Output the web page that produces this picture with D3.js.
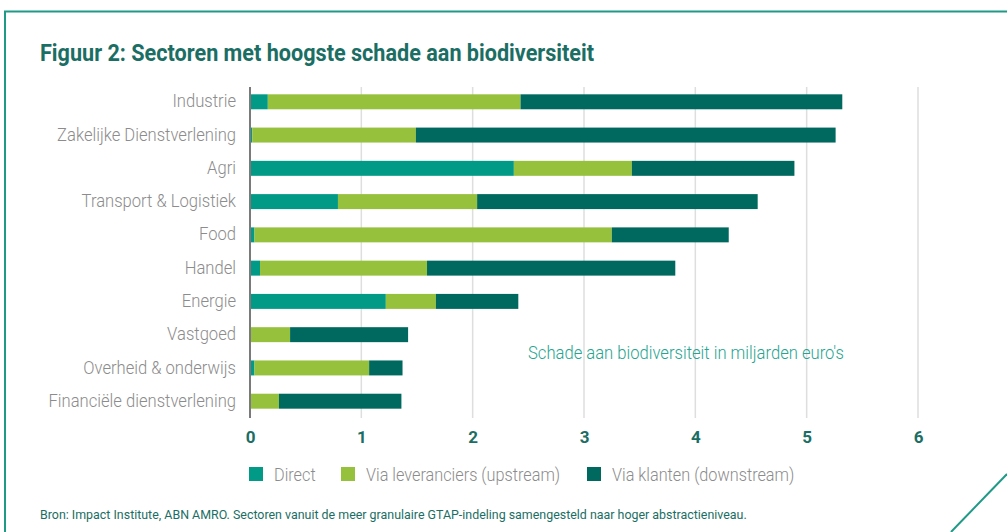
<!DOCTYPE html>
<html>
<head>
<meta charset="utf-8">
<title>Figuur 2</title>
<script src="https://d3js.org/d3.v7.min.js"></script>
<style type="text/css">
	body {
		margin: 0;
		background: #fff;
		overflow: hidden;
	}
	.cond {
		font-family: "Roboto", "Liberation Sans", sans-serif;
	}
	.grid line {
		stroke: #dedede;
		stroke-width: 1.5px;
	}
</style>
</head>
<body>
<div id="chart"></div>
<script type="text/javascript">

var sectors = ["Industrie", "Zakelijke Dienstverlening", "Agri", "Transport & Logistiek", "Food",
	"Handel", "Energie", "Vastgoed", "Overheid & onderwijs", "Financiële dienstverlening"];
var direct     = [0.16, 0.02, 2.37, 0.79, 0.04, 0.09, 1.22, 0.00, 0.04, 0.00];
var upstream   = [2.27, 1.47, 1.06, 1.25, 3.21, 1.50, 0.45, 0.36, 1.03, 0.26];
var downstream = [2.89, 3.77, 1.46, 2.52, 1.05, 2.23, 0.74, 1.06, 0.30, 1.10];
var seriesNames = ["Direct", "Via leveranciers (upstream)", "Via klanten (downstream)"];
var xTicks = [0, 1, 2, 3, 4, 5, 6];

var colors = ["#009a87", "#96c13d", "#00695f"];
var teal = "#1b6e64";
var grey = "#8c8c8c";
var squeeze = 0.95;   // fake a condensed face

var width = 1007, height = 532;

var svg = d3.select("#chart").append("svg")
	.attr("width", width)
	.attr("height", height);

// frame
svg.append("path")
	.attr("d", "M5,532 L5,11.5 L1007,11.5")
	.attr("fill", "none")
	.attr("stroke", "#1f9a87")
	.attr("stroke-width", 2);
svg.append("line")
	.attr("x1", 951).attr("y1", 532)
	.attr("x2", 1007).attr("y2", 474)
	.attr("stroke", "#1f9a87")
	.attr("stroke-width", 2);

svg.append("g")
	.attr("transform", "translate(40,61) scale(0.94,1)")
	.append("text")
	.attr("class", "cond")
	.attr("fill", teal)
	.style("font-size", "23px")
	.style("font-weight", "bold")
	.text("Figuur 2: Sectoren met hoogste schade aan biodiversiteit");

var x = d3.scaleLinear().domain([0, 6]).range([250, 918]);
var y = d3.scaleBand().domain(sectors).range([85, 418]).paddingInner(0.55).paddingOuter(0.28);

// gridlines
svg.append("g").attr("class", "grid")
	.selectAll("line")
	.data(xTicks.slice(1)).enter()
	.append("line")
	.attr("x1", function(d) { return x(d); })
	.attr("x2", function(d) { return x(d); })
	.attr("y1", 87).attr("y2", 418);

var table = sectors.map(function(s, i) {
	return { sector: s, d: direct[i], u: upstream[i], k: downstream[i] };
});
var stack = d3.stack().keys(["d", "u", "k"])(table);

svg.selectAll("g.series")
	.data(stack).enter()
	.append("g")
	.attr("class", "series")
	.attr("fill", function(d, i) { return colors[i]; })
	.selectAll("rect")
	.data(function(d) { return d; }).enter()
	.append("rect")
	.attr("x", function(d) { return x(d[0]); })
	.attr("width", function(d) { return x(d[1]) - x(d[0]); })
	.attr("y", function(d) { return y(d.data.sector); })
	.attr("height", y.bandwidth());

// zero line
svg.append("line")
	.attr("x1", x(0)).attr("x2", x(0))
	.attr("y1", 87).attr("y2", 418)
	.attr("stroke", "#7a7a7a")
	.attr("stroke-width", 2);

// category labels
var yAxis = svg.append("g")
	.attr("transform", "translate(" + (x(0) - 14) + ",0) scale(" + squeeze + ",1)")
	.call(d3.axisLeft(y).tickSize(0).tickPadding(0));
yAxis.select(".domain").remove();
yAxis.selectAll("text")
	.attr("class", "cond")
	.attr("fill", grey)
	.style("font-size", "17.5px")
	.style("font-weight", "300");

// x tick labels
var xAxis = svg.append("g")
	.attr("transform", "translate(0,431)")
	.call(d3.axisBottom(x).tickValues(xTicks).tickSize(0).tickPadding(0).tickFormat(d3.format("d")));
xAxis.select(".domain").remove();
xAxis.selectAll("text")
	.attr("class", "cond")
	.attr("fill", teal)
	.style("font-size", "17px")
	.style("font-weight", "bold");

svg.append("g")
	.attr("transform", "translate(528,359) scale(" + squeeze + ",1)")
	.append("text")
	.attr("class", "cond")
	.attr("fill", "#27a490")
	.style("font-size", "17.5px")
	.style("font-weight", "300")
	.text("Schade aan biodiversiteit in miljarden euro's");

// legend
var legendX = [249, 341, 587];
var leg = svg.selectAll("g.legend")
	.data(seriesNames).enter()
	.append("g")
	.attr("class", "legend")
	.attr("transform", function(d, i) { return "translate(" + legendX[i] + ",467)"; });
leg.append("rect")
	.attr("width", 14).attr("height", 14)
	.attr("fill", function(d, i) { return colors[i]; });
leg.append("g")
	.attr("transform", "translate(25,14) scale(0.93,1)")
	.append("text")
	.attr("class", "cond")
	.attr("fill", grey)
	.style("font-size", "17.5px")
	.style("font-weight", "300")
	.text(function(d) { return d; });

svg.append("g")
	.attr("transform", "translate(40,519) scale(0.92,1)")
	.append("text")
	.attr("class", "cond")
	.attr("fill", teal)
	.style("font-size", "13.5px")
	.text("Bron: Impact Institute, ABN AMRO. Sectoren vanuit de meer granulaire GTAP-indeling samengesteld naar hoger abstractieniveau.");

</script>
</body>
</html>
